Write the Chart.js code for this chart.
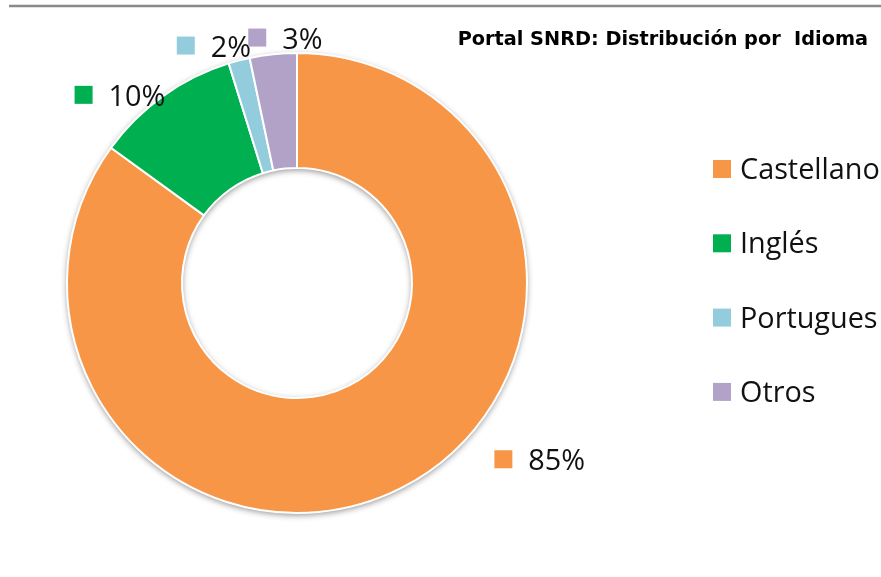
<!DOCTYPE html>
<html>
<head>
<meta charset="utf-8">
<script src="https://cdn.jsdelivr.net/npm/chart.js@4/dist/chart.umd.min.js"></script>
<style>
  body { margin: 0; background: #fff; }
  #wrap { width: 881px; height: 577px; position: relative; }
</style>
</head>
<body>
<div id="wrap"><canvas id="pieChart"></canvas></div>
<script>
// chart data
var languages = ["Castellano", "Inglés", "Portugues", "Otros"];
var shares = [85, 10.2, 1.5, 3.3];
var sliceColors = ["#F79646", "#00B050", "#93CDDD", "#B3A2C7"];
var chartTitle = "Portal SNRD: Distribución por  Idioma";

// where each percent label sits: angle from top (clockwise, deg), distance as a factor of the outer radius
var labelSpots = [[130.5, 1.18], [311.4, 1.237], [334.9, 1.14], [350.8, 1.081]];

var labelFont = "28.8px 'Open Sans', sans-serif";

// soft shadow under the ring
var ringShadow = {
  id: "ringShadow",
  beforeDatasetsDraw: function (chart) {
    var arc = chart.getDatasetMeta(0).data[0];
    if (!arc) return;
    var ctx = chart.ctx;
    ctx.save();
    ctx.shadowColor = "rgba(0,0,0,0.45)";
    ctx.shadowBlur = 6;
    ctx.shadowOffsetY = 2;
    ctx.beginPath();
    ctx.arc(arc.x, arc.y, arc.outerRadius, 0, Math.PI * 2);
    ctx.arc(arc.x, arc.y, arc.innerRadius, Math.PI * 2, 0, true);
    ctx.closePath();
    ctx.fillStyle = "#fff";
    ctx.fill();
    ctx.restore();
  }
};

// title, top rule, legend and percent labels
var decorations = {
  id: "decorations",
  afterDraw: function (chart) {
    var ctx = chart.ctx;
    var meta = chart.getDatasetMeta(0);
    var first = meta.data[0];
    ctx.save();

    // top rule
    ctx.strokeStyle = "#8a8a8a";
    ctx.lineWidth = 2.5;
    ctx.beginPath();
    ctx.moveTo(9, 6);
    ctx.lineTo(chart.width, 6);
    ctx.stroke();

    // title
    ctx.fillStyle = "#000";
    ctx.font = "bold 19.3px 'DejaVu Sans', Verdana, sans-serif";
    ctx.textAlign = "right";
    ctx.textBaseline = "alphabetic";
    ctx.fillText(chartTitle, 868, 45);

    // legend
    ctx.font = labelFont;
    ctx.textAlign = "left";
    for (var i = 0; i < languages.length; i++) {
      var cy = 169 + i * 74.3;
      ctx.fillStyle = sliceColors[i];
      ctx.fillRect(713, cy - 9, 18, 18);
      ctx.fillStyle = "#111";
      ctx.fillText(languages[i], 740, cy + 10);
    }

    // percent labels around the ring
    var total = shares.reduce(function (a, b) { return a + b; }, 0);
    for (var j = 0; j < shares.length; j++) {
      var ang = labelSpots[j][0] * Math.PI / 180;
      var dist = labelSpots[j][1] * first.outerRadius;
      var mx = first.x + Math.sin(ang) * dist;
      var my = first.y - Math.cos(ang) * dist;
      ctx.fillStyle = sliceColors[j];
      ctx.fillRect(mx - 9, my - 9, 18, 18);
      ctx.fillStyle = "#111";
      ctx.fillText(Math.round(shares[j] / total * 100) + "%", mx + 25, my + 11);
    }
    ctx.restore();
  }
};

var ctx = document.getElementById("pieChart").getContext("2d");
var myPieChart = new Chart(ctx, {
  type: "doughnut",
  data: {
    labels: languages,
    datasets: [
      {
        data: shares,
        backgroundColor: sliceColors,
        borderColor: "#ffffff",
        borderWidth: 2,
      },
    ],
  },
  options: {
    responsive: true,
    maintainAspectRatio: false,
    animation: false,
    cutout: "50%",
    layout: {
      padding: { left: 66, top: 52, right: 353, bottom: 63 },
    },
    plugins: {
      legend: { display: false },
      tooltip: { enabled: false },
    },
  },
  plugins: [ringShadow, decorations],
});
</script>
</body>
</html>
